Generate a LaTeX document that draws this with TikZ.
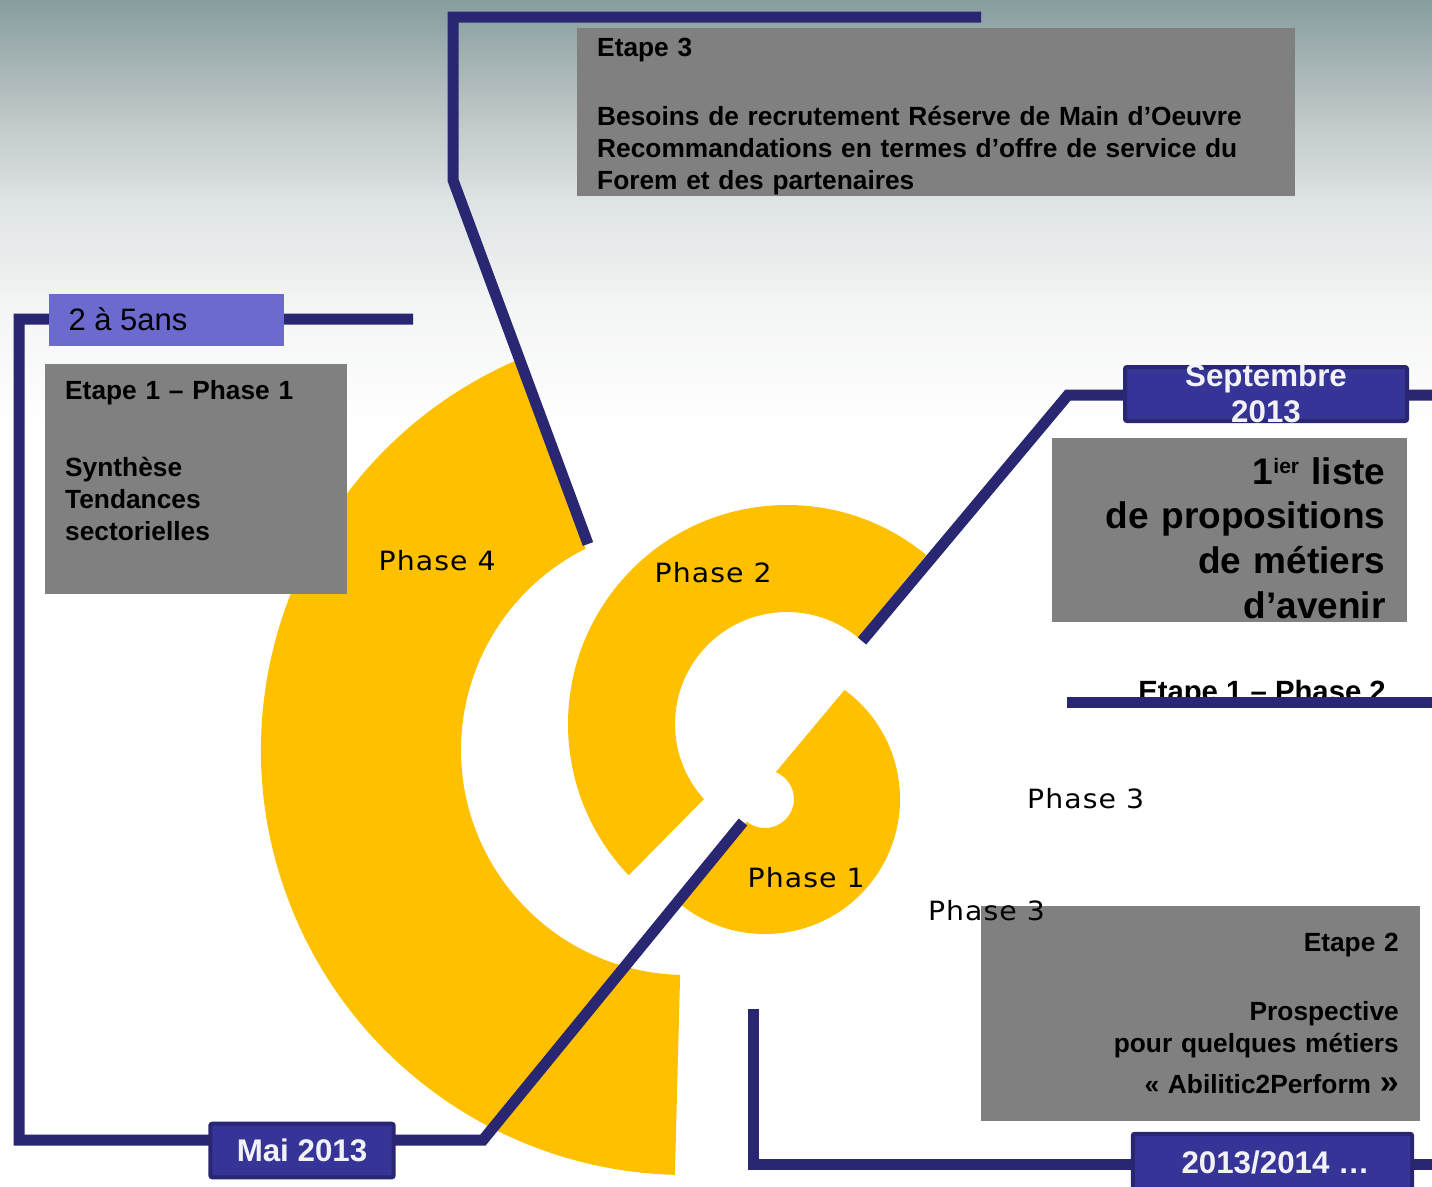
\documentclass[tikz,border=0pt]{standalone}
\usepackage{fontspec}
\setmainfont{Liberation Sans}
\newfontfamily\phasefont[FakeStretch=1.07, LetterSpace=4]{DejaVu Sans}
\usetikzlibrary{calc}

\definecolor{navyline}{RGB}{41,39,114}
\definecolor{datefill}{RGB}{54,52,150}
\definecolor{datewhite}{RGB}{242,242,246}
\definecolor{boxgray}{RGB}{128,128,128}
\definecolor{sunny}{RGB}{255,192,0}
\definecolor{lilac}{RGB}{108,106,206}
\definecolor{skyA}{RGB}{135,157,158}
\definecolor{skyB}{RGB}{192,200,200}
\definecolor{skyC}{RGB}{222,227,227}
\definecolor{skyD}{RGB}{243,244,244}

\tikzset{
  navy/.style={draw=navyline, line width=11pt, line join=miter},
  greybox/.style={fill=boxgray, inner sep=0pt, anchor=north west},
  datebox/.style={fill=datefill, draw=navyline, line width=4pt, rounded corners=2pt, inner sep=0pt},
  boxtext/.style={inner sep=0pt, font=\bfseries\fontsize{26.3}{32}\selectfont},
  datetext/.style={inner sep=0pt, text=datewhite, font=\bfseries\fontsize{31.3}{36}\selectfont},
  phaselabel/.style={inner sep=0pt, anchor=base, font=\phasefont\fontsize{26.5}{30}\selectfont},
}

\begin{document}
\begin{tikzpicture}[x=1pt, y=-1pt]
\useasboundingbox (0,0) rectangle (1432,1186);
\clip (0,0) rectangle (1432,1186);
\fill[white] (0,0) rectangle (1432,1186);
\shade[top color=skyA, bottom color=skyB] (0,0) rectangle (1432,121);
\shade[top color=skyB, bottom color=skyC] (0,120) rectangle (1432,201);
\shade[top color=skyC, bottom color=skyD] (0,200) rectangle (1432,301);
\shade[top color=skyD, bottom color=white] (0,300) rectangle (1432,430);

\coordinate (cFour) at (686,750);
\coordinate (cTwo) at (787,724);
\coordinate (cOne) at (765,799);

\fill[sunny] (cFour) ++(-113.8:425) arc[start angle=-113.8, end angle=-268.5, radius=425]
  -- ($(cFour)+(-268.5:225)$) arc[start angle=-268.5, end angle=-116.5, radius=225] -- cycle;
\fill[sunny] (cTwo) ++(-50.5:219) arc[start angle=-50.5, end angle=-223.7, radius=219]
  -- ($(cTwo)+(-222.1:112)$) arc[start angle=-222.1, end angle=-50.5, radius=112] -- cycle;
\fill[sunny] (cOne) ++(129:135) arc[start angle=129, end angle=-53.9, radius=135]
  -- ($(cOne)+(-68.1:29)$) arc[start angle=-68.1, end angle=129, radius=29] -- cycle;

\node[phaselabel] (phaseFour) at (437.2,570.3) {Phase 4};
\node[phaselabel] (phaseTwo) at (713.2,582.7) {Phase 2};
\node[phaselabel] (phaseOne) at (806.2,887.3) {Phase 1};
\node[phaselabel] (phaseThreeA) at (1085.7,808.3) {Phase 3};

\draw[navy] (981,17) -- (453,17) -- (453,180) -- (588,544);
\draw[navy] (413,319) -- (19,319) -- (19,1140) -- (483,1140) -- (743,822);
\draw[navy] (862,641) -- (1068,395) -- (1440,395);
\draw[navy] (753.5,1009) -- (753.5,1164) -- (1440,1164);

\node[greybox, minimum width=718pt, minimum height=168pt] (etapeTroisBox) at (577,27.7) {};
\node[boxtext, anchor=base west, text width=700pt, align=left] (etapeTrois) at (597,56)
  {Etape 3\\[37pt]Besoins de recrutement Réserve de Main d’Oeuvre\\Recommandations en termes d’offre de service du\\Forem et des partenaires};

\node[fill=lilac, inner sep=0pt, anchor=north west, minimum width=235pt, minimum height=52.4pt] (dureeBox) at (49,293.3) {};
\node[inner sep=0pt, anchor=base west, font=\fontsize{31}{36}\selectfont] (duree) at (68.3,330.7) {2 à 5ans};

\node[greybox, minimum width=301.7pt, minimum height=230pt] (phaseUnBox) at (45,363.3) {};
\node[boxtext, anchor=base west, text width=270pt, align=left] (phaseUn) at (65,399.3)
  {Etape 1 – Phase 1\\[45.4pt]Synthèse\\Tendances\\sectorielles};

\node[datebox, minimum width=282pt, minimum height=54pt] (septBox) at (1266,394) {};
\node[datetext, anchor=base, text width=260pt, align=center] (sept) at (1266,386.7) {Septembre\\2013};

\node[greybox, minimum width=354.7pt, minimum height=184pt] (listeBox) at (1052,437.7) {};
\node[inner sep=0pt, anchor=base east, text width=340pt, align=right, font=\bfseries\fontsize{37}{44.8}\selectfont] (liste) at (1385.7,484)
  {1\raisebox{11pt}{\fontsize{21}{21}\selectfont ier} liste\\de propositions\\de métiers\\d’avenir};

\node[boxtext, anchor=base east, font=\bfseries\fontsize{29.3}{32}\selectfont] (phaseDeux) at (1386,701) {Etape 1 – Phase 2};
\draw[navy] (1067,702.5) -- (1440,702.5);

\node[greybox, minimum width=439pt, minimum height=214.7pt] (etapeDeuxBox) at (981,906) {};
\node[boxtext, anchor=base east, text width=430pt, align=right] (etapeDeux) at (1399,951.7)
  {Etape 2\\[36.3pt]Prospective\\pour quelques métiers\\[9pt]« Abilitic2Perform {\fontsize{34}{34}\selectfont »}};
\node[phaselabel] (phaseThreeB) at (986.5,920.7) {Phase 3};

\node[datebox, datetext, minimum width=183.4pt, minimum height=53.6pt] (mai) at (302,1150.5) {Mai 2013};

\node[datebox, minimum width=279.3pt, minimum height=74.3pt] (suiteBox) at (1272.4,1170.9) {};
\node[datetext, anchor=base] (suite) at (1275.5,1173.3) {2013/2014 …};
\end{tikzpicture}
\end{document}
